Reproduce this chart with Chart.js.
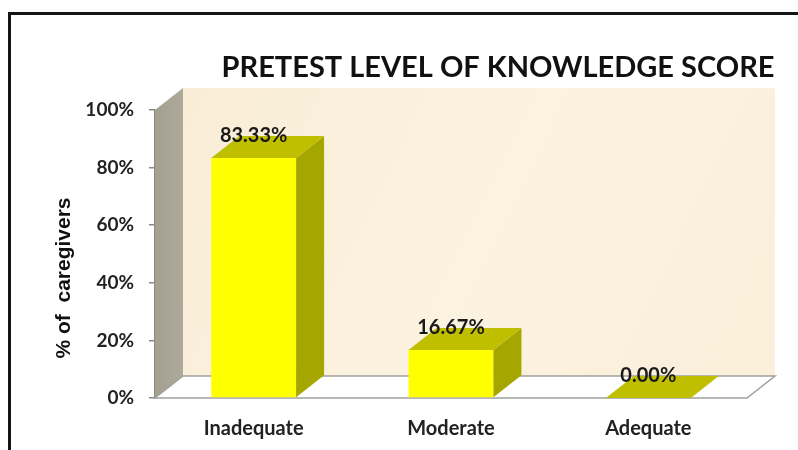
<!DOCTYPE html>
<html><head><meta charset="utf-8">
<script src="https://cdn.jsdelivr.net/npm/chart.js@4.4.0/dist/chart.umd.min.js"></script>
<style>
html,body{margin:0;padding:0;background:#fff;overflow:hidden}
#wrap{position:relative;width:798px;height:450px;overflow:hidden}
#frame{position:absolute;left:8px;top:12px;width:900px;height:600px;border:3px solid #151515;box-sizing:border-box}
canvas{position:absolute;left:0;top:0}
</style></head><body>
<div id="wrap"><div id="frame"></div><canvas id="c" width="798" height="450"></canvas></div>
<script>
const categories = ['Inadequate', 'Moderate', 'Adequate'];
const values = [83.33, 16.67, 0.00];
const tickValues = [0, 20, 40, 60, 80, 100];
const chartTitle = 'PRETEST LEVEL OF KNOWLEDGE SCORE';
const yAxisTitle = '% of  caregivers';

const DX = 28, DY = 22;
const FONT = 'Lato, "Open Sans", sans-serif';

const threeD = {
  id: 'threeD',
  beforeDatasetsDraw(chart) {
    const ctx = chart.ctx, a = chart.chartArea, y = chart.scales.y;
    const y0 = y.getPixelForValue(tickValues[0]);
    const yT = y.getPixelForValue(tickValues[tickValues.length - 1]);
    const L = a.left, R = a.right;
    ctx.save();
    // back wall
    const g = ctx.createLinearGradient(L + DX, yT - DY, R + DX, y0 - DY);
    g.addColorStop(0, '#F9EDD6'); g.addColorStop(0.5, '#FBF2E0'); g.addColorStop(1, '#FAEFD9');
    ctx.fillStyle = g;
    ctx.fillRect(L + DX, yT - DY, R - L, y0 - yT);
    // side wall
    const gs = ctx.createLinearGradient(L, yT, L + DX, yT);
    gs.addColorStop(0, '#A59F91'); gs.addColorStop(1, '#AFA99C');
    ctx.fillStyle = gs;
    ctx.beginPath();
    ctx.moveTo(L, yT); ctx.lineTo(L + DX, yT - DY); ctx.lineTo(L + DX, y0 - DY); ctx.lineTo(L, y0); ctx.closePath();
    ctx.fill();
    // floor
    ctx.fillStyle = '#FFFFFF';
    ctx.strokeStyle = '#A0A0A0';
    ctx.lineWidth = 1.5;
    ctx.beginPath();
    ctx.moveTo(L, y0); ctx.lineTo(L + DX, y0 - DY); ctx.lineTo(R + DX, y0 - DY); ctx.lineTo(R, y0); ctx.closePath();
    ctx.fill(); ctx.stroke();
    ctx.restore();
  },
  afterDatasetsDraw(chart) {
    const ctx = chart.ctx;
    const meta = chart.getDatasetMeta(0);
    ctx.save();
    meta.data.forEach((bar, i) => {
      const p = bar.getProps(['x', 'y', 'width', 'base'], true);
      const l = p.x - p.width / 2, r = p.x + p.width / 2;
      // side
      ctx.fillStyle = '#A6A600';
      ctx.beginPath();
      ctx.moveTo(r, p.y); ctx.lineTo(r + DX, p.y - DY); ctx.lineTo(r + DX, p.base - DY); ctx.lineTo(r, p.base); ctx.closePath();
      ctx.fill();
      // top
      ctx.fillStyle = '#BFBF00';
      ctx.beginPath();
      ctx.moveTo(l, p.y); ctx.lineTo(l + DX, p.y - DY); ctx.lineTo(r + DX, p.y - DY); ctx.lineTo(r, p.y); ctx.closePath();
      ctx.fill();
      // label
      ctx.fillStyle = '#1a1a1a';
      ctx.font = 'bold 20px ' + FONT;
      ctx.textAlign = 'center';
      ctx.textBaseline = 'middle';
      ctx.fillText(values[i].toFixed(2) + '%', p.x, p.y - DY);
    });
    ctx.restore();
  },
  afterDraw(chart) {
    const ctx = chart.ctx;
    ctx.save();
    ctx.fillStyle = '#111';
    ctx.font = 'bold 29px ' + FONT;
    ctx.textAlign = 'center';
    ctx.textBaseline = 'alphabetic';
    ctx.fillText(chartTitle, 498, 77);
    ctx.translate(64, 278);
    ctx.rotate(-Math.PI / 2);
    ctx.font = 'bold 21px "Liberation Sans", Arial, sans-serif';
    ctx.textBaseline = 'middle';
    ctx.fillText(yAxisTitle, 0, 0);
    ctx.restore();
  }
};

new Chart(document.getElementById('c'), {
  type: 'bar',
  data: {
    labels: categories,
    datasets: [{
      data: values,
      backgroundColor: '#FFFF00',
      borderWidth: 0,
      categoryPercentage: 1,
      barPercentage: 0.43
    }]
  },
  options: {
    responsive: false,
    animation: false,
    events: [],
    layout: { padding: { top: 110, right: 51, left: 0, bottom: 0 } },
    plugins: { legend: { display: false }, title: { display: false }, tooltip: { enabled: false } },
    scales: {
      y: {
        min: tickValues[0], max: tickValues[tickValues.length - 1],
        afterFit(s) { s.width = 155; },
        afterBuildTicks(s) { s.ticks = tickValues.map(v => ({ value: v })); },
        ticks: {
          callback: v => v + '%',
          font: { family: FONT, weight: 'bold', size: 19 },
          color: '#222',
          padding: 15
        },
        grid: { drawOnChartArea: false, tickLength: 6, color: '#8a8a8a', lineWidth: 1.5 },
        border: { display: true, color: '#8a8a8a', width: 1.5 }
      },
      x: {
        afterFit(s) { s.height = 52; },
        ticks: {
          font: { family: FONT, weight: 'bold', size: 20 },
          color: '#222',
          padding: 11
        },
        grid: { display: false },
        border: { display: false }
      }
    }
  },
  plugins: [threeD]
});
</script>
</body></html>
